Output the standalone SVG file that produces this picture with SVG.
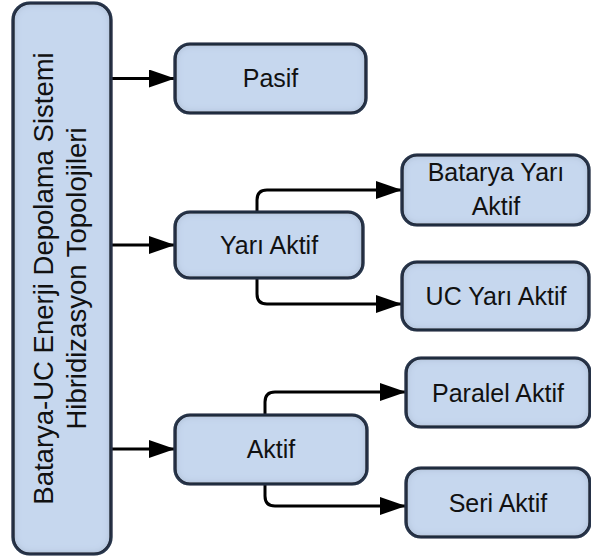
<svg xmlns="http://www.w3.org/2000/svg" width="591" height="560" viewBox="0 0 591 560">
<style>
.box{fill:#c6d7ee;stroke:#000;stroke-width:3.2;filter:url(#inner)}
.lbl{font-family:"Liberation Sans",Arial,sans-serif;font-size:25px;fill:#111;text-anchor:middle}
.main{font-family:"Liberation Sans",Arial,sans-serif;font-size:27.5px;fill:#111;text-anchor:middle}
.con{fill:none;stroke:#000;stroke-width:3;marker-end:url(#arr)}
</style>
<defs>
<filter id="inner" x="-10%" y="-10%" width="120%" height="120%">
<feFlood flood-color="#4a5f80" flood-opacity="0.7"/>
<feComposite in2="SourceAlpha" operator="out"/>
<feGaussianBlur stdDeviation="4"/>
<feComposite in2="SourceAlpha" operator="in"/>
<feMerge><feMergeNode in="SourceGraphic"/><feMergeNode/></feMerge>
</filter>
<marker id="arr" markerUnits="userSpaceOnUse" markerWidth="28" markerHeight="20" refX="26" refY="9" orient="auto">
<path d="M0,0 L26,9 L0,18 z" fill="#000"/>
</marker>
</defs>
<g id="connectors">
<path class="con" d="M111,78.5 H175"/>
<path class="con" d="M111,245 H175"/>
<path class="con" d="M111,449 H175"/>
<path class="con" d="M257,212 V200 Q257,190 267,190 H402"/>
<path class="con" d="M257,278 V294 Q257,304 267,304 H402"/>
<path class="con" d="M265,415 V402 Q265,392 275,392 H406"/>
<path class="con" d="M265,484 V496 Q265,506 275,506 H406"/>
</g>
<g id="root">
<rect class="box" x="13" y="3" width="98" height="551" rx="17"/>
<g transform="translate(0,278.5) rotate(-90)">
<text class="main" x="0" y="53">Batarya-UC Enerji Depolama Sistemi</text>
<text class="main" x="0" y="86">Hibridizasyon Topolojileri</text>
</g>
</g>
<g id="pasif">
<rect class="box" x="175" y="44" width="191" height="69" rx="15"/>
<text class="lbl" x="270.5" y="87">Pasif</text>
</g>
<g id="yari-aktif">
<rect class="box" x="175" y="212" width="188" height="66" rx="15"/>
<text class="lbl" x="269" y="254">Yarı Aktif</text>
</g>
<g id="aktif">
<rect class="box" x="175" y="415" width="192" height="69" rx="15"/>
<text class="lbl" x="271" y="458">Aktif</text>
</g>
<g id="batarya-yari-aktif">
<rect class="box" x="402" y="155" width="187" height="70" rx="15"/>
<text class="lbl" x="496" y="181">Batarya Yarı</text>
<text class="lbl" x="496" y="215">Aktif</text>
</g>
<g id="uc-yari-aktif">
<rect class="box" x="402" y="262" width="187" height="68" rx="15"/>
<text class="lbl" x="496" y="305">UC Yarı Aktif</text>
</g>
<g id="paralel-aktif">
<rect class="box" x="406" y="358" width="184" height="69" rx="15"/>
<text class="lbl" x="498" y="402">Paralel Aktif</text>
</g>
<g id="seri-aktif">
<rect class="box" x="406" y="468" width="184" height="69" rx="15"/>
<text class="lbl" x="498" y="512">Seri Aktif</text>
</g>
</svg>
